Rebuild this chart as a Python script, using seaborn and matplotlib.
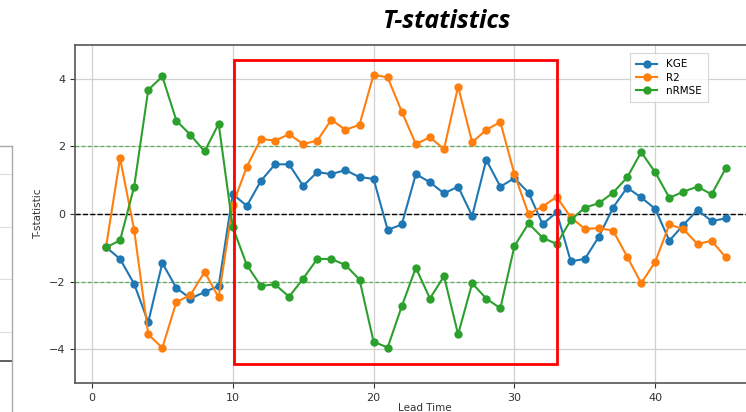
import matplotlib
matplotlib.use("Agg")
import matplotlib.pyplot as plt
import seaborn as sns
import pandas as pd
from matplotlib.patches import Rectangle

lead_time = list(range(1, 46))
kge = [-0.98, -1.33, -2.07, -3.20, -1.45, -2.19, -2.50, -2.31, -2.13, 0.59,
       0.24, 0.98, 1.47, 1.47, 0.83, 1.24, 1.18, 1.30, 1.09, 1.04,
       -0.47, -0.31, 1.18, 0.94, 0.61, 0.81, -0.06, 1.60, 0.81, 1.06,
       0.63, -0.30, 0.05, -1.40, -1.33, -0.67, 0.19, 0.78, 0.49, 0.15,
       -0.79, -0.32, 0.12, -0.21, -0.13]
r2 = [-0.98, 1.65, -0.47, -3.56, -3.96, -2.60, -2.40, -1.71, -2.47, 0.27,
      1.40, 2.22, 2.17, 2.36, 2.07, 2.17, 2.79, 2.49, 2.64, 4.12,
      4.04, 3.03, 2.07, 2.27, 1.92, 3.77, 2.12, 2.49, 2.72, 1.18,
      0.00, 0.22, 0.51, -0.10, -0.44, -0.42, -0.49, -1.26, -2.05, -1.41,
      -0.31, -0.45, -0.89, -0.79, -1.28]
nrmse = [-0.99, -0.78, 0.81, 3.67, 4.07, 2.76, 2.34, 1.85, 2.67, -0.39,
         -1.51, -2.13, -2.08, -2.45, -1.91, -1.33, -1.33, -1.51, -1.94, -3.78,
         -3.95, -2.73, -1.59, -2.50, -1.84, -3.56, -2.05, -2.50, -2.79, -0.95,
         -0.28, -0.70, -0.89, -0.18, 0.19, 0.32, 0.63, 1.08, 1.83, 1.23,
         0.48, 0.66, 0.81, 0.58, 1.35]
series_names = ["KGE", "R2", "nRMSE"]
colors = ["#1f77b4", "#ff7f0e", "#2ca02c"]
x_ticks = [0, 10, 20, 30, 40]
y_ticks = [-4, -2, 0, 2, 4]

df = pd.DataFrame({
    "Lead Time": lead_time * 3,
    "T-statistic": kge + r2 + nrmse,
    "metric": [n for n in series_names for _ in lead_time],
})

fig = plt.figure(figsize=(7.46, 4.12), dpi=100)

# partial neighbouring panel at the left edge
axl = fig.add_axes([-0.01, -0.02, 0.026, 0.665])
axl.set_xlim(0, 1)
axl.set_ylim(0, 1)
axl.set_xticks([])
axl.set_yticks([])
for s in axl.spines.values():
    s.set_color("#aaaaaa")
    s.set_linewidth(1.0)
for yy in [0.90, 0.707, 0.514, 0.322]:
    axl.axhline(yy, color="#dddddd", lw=0.8)
axl.axhline(0.218, color="#444444", lw=1.2)

ax = fig.add_axes([75 / 746, 29 / 412, 700 / 746, 338 / 412])
sns.lineplot(data=df, x="Lead Time", y="T-statistic", hue="metric",
             palette=colors, marker="o", markersize=6, markeredgewidth=0,
             linewidth=1.5, ax=ax, zorder=3)

ax.axhline(0, color="black", ls="--", lw=1.0, zorder=2)
ax.axhline(2, color="#3aa53a", ls=(0, (3, 2)), lw=0.9, alpha=0.8, zorder=2)
ax.axhline(-2, color="#3aa53a", ls=(0, (3, 2)), lw=0.9, alpha=0.8, zorder=2)

ax.add_patch(Rectangle((10.08, -4.44), 22.92, 9.0, fill=False,
                       edgecolor="red", lw=2.0, zorder=4))

ax.set_xlim(-1.2, 48.5)
ax.set_ylim(-5, 5)
ax.set_xticks(x_ticks)
ax.set_yticks(y_ticks)
ax.grid(True, color="#d0d0d0", lw=0.9)
ax.set_axisbelow(True)
ax.tick_params(labelsize=8, colors="#333333", length=3.5)
for s in ax.spines.values():
    s.set_color("#555555")
    s.set_linewidth(1.2)
ax.set_xlabel("Lead Time", fontsize=7.5, color="#333333", labelpad=0)
ax.set_ylabel("T-statistic", fontsize=7.5, color="#333333", labelpad=4)

leg = ax.legend(loc="upper left", bbox_to_anchor=(625 / 746, 1 - 48 / 412),
                bbox_transform=fig.transFigure, fontsize=7.5, frameon=True,
                fancybox=False, borderpad=0.6, labelspacing=0.3,
                handlelength=2.0)
leg.get_frame().set_edgecolor("#cccccc")
leg.get_frame().set_linewidth(0.8)

fig.text(447 / 746, 1 - 21 / 412, "T-statistics", ha="center", va="center",
         fontsize=18, fontweight="bold", fontstyle="italic",
         family=["Open Sans", "DejaVu Sans"])

fig.savefig("out.png", dpi=100)
